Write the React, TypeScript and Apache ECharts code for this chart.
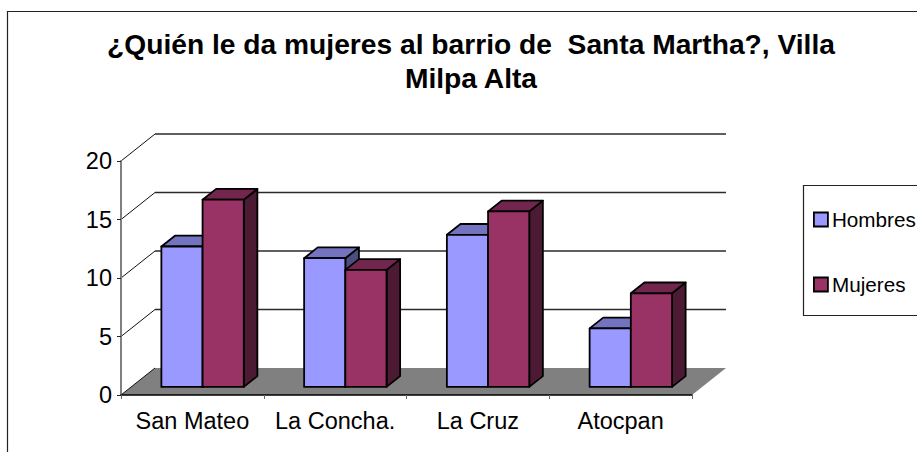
import React, { useEffect, useRef } from "react";
import * as echarts from "echarts";

const titleText = "¿Quién le da mujeres al barrio de  Santa Martha?, Villa\nMilpa Alta";
const categories = ["San Mateo", "La Concha.", "La Cruz", "Atocpan"];
const hombres = [12, 11, 13, 5];
const mujeres = [16, 10, 15, 8];
const valueTicks = [0, 5, 10, 15, 20];

const FONT = "'Liberation Sans', Arial, sans-serif";
const DEPTH_X = 34;
const DEPTH_Y = 27;
const BAR_FRONT = 0.3;
const BAR_DEPTH = 0.4;
const BAR_BAND = 0.2886;

const GRID = { left: 121, top: 161, width: 571, height: 234 };

function wallItem(params: any, api: any) {
  const v = api.value(1);
  const [x0, y] = api.coord([0, v]);
  const band = api.size([1, 0])[0];
  const left = x0 - band / 2;
  const right = left + band * categories.length;
  const children: any[] = [
    {
      type: "line",
      shape: { x1: left, y1: y, x2: left + DEPTH_X, y2: y - DEPTH_Y },
      style: { stroke: "#111", lineWidth: 1, fill: "none" },
    },
  ];
  if (v > 0) {
    children.push({
      type: "line",
      shape: { x1: left + DEPTH_X, y1: y - DEPTH_Y, x2: right + DEPTH_X, y2: y - DEPTH_Y },
      style: { stroke: "#2a2a2a", lineWidth: 1.4, fill: "none" },
    });
  }
  return { type: "group", children };
}

function floorItem(params: any, api: any) {
  const [x0, y] = api.coord([0, 0]);
  const band = api.size([1, 0])[0];
  const left = x0 - band / 2;
  const right = left + band * categories.length;
  return {
    type: "polygon",
    shape: {
      points: [
        [left, y],
        [left + DEPTH_X, y - DEPTH_Y],
        [right + DEPTH_X, y - DEPTH_Y],
        [right, y],
      ],
    },
    style: { fill: "#808080", stroke: "none" },
  };
}

function barRenderer(side: number, front: string, top: string, dark: string) {
  return (params: any, api: any) => {
    const i = api.value(0);
    const [cx, yTop0] = api.coord([i, api.value(1)]);
    const [, yBase0] = api.coord([i, 0]);
    const band = api.size([1, 0])[0];
    const w = band * BAR_BAND;
    const ox = DEPTH_X * BAR_FRONT;
    const oy = DEPTH_Y * BAR_FRONT;
    const dx = DEPTH_X * BAR_DEPTH;
    const dy = DEPTH_Y * BAR_DEPTH;
    const xl = cx + ox + (side === 0 ? -w : 0);
    const xr = xl + w;
    const yT = yTop0 - oy;
    const yB = yBase0 - oy;
    const line = { stroke: "#000", lineWidth: 1.8, lineJoin: "round" };
    return {
      type: "group",
      children: [
        {
          type: "polygon",
          shape: { points: [[xr, yT], [xr + dx, yT - dy], [xr + dx, yB - dy], [xr, yB]] },
          style: { fill: dark, ...line },
        },
        {
          type: "polygon",
          shape: { points: [[xl, yT], [xl + dx, yT - dy], [xr + dx, yT - dy], [xr, yT]] },
          style: { fill: top, ...line },
        },
        {
          type: "polygon",
          shape: { points: [[xl, yT], [xr, yT], [xr, yB], [xl, yB]] },
          style: { fill: front, ...line },
        },
      ],
    };
  };
}

export default function App() {
  const ref = useRef<HTMLDivElement>(null);
  useEffect(() => {
    document.body.style.margin = "0";
    const chart = echarts.init(ref.current!, undefined, { renderer: "svg" });
    chart.setOption({
      animation: false,
      backgroundColor: "#fff",
      tooltip: { show: false },
      title: {
        text: titleText,
        left: 466,
        top: 22,
        textAlign: "center",
        textStyle: { fontFamily: FONT, fontSize: 28.2, fontWeight: "bold", color: "#000", lineHeight: 34 },
      },
      legend: {
        data: [
          { name: "Hombres", itemStyle: { color: "#9999FF", borderColor: "#000", borderWidth: 1.8 } },
          { name: "Mujeres", itemStyle: { color: "#993366", borderColor: "#000", borderWidth: 1.8 } },
        ],
        orient: "vertical",
        left: 813,
        top: 209,
        icon: "rect",
        itemWidth: 14,
        itemHeight: 14,
        itemGap: 44,
        padding: 0,
        textStyle: { fontFamily: FONT, fontSize: 20.7, color: "#000", padding: [0, 0, 0, -1] },
      },
      grid: { ...GRID },
      xAxis: {
        type: "category",
        data: categories,
        z: 4,
        axisLine: { lineStyle: { color: "#000", width: 1.5 } },
        axisTick: { show: true, alignWithLabel: false, length: 4, lineStyle: { color: "#666", width: 1 } },
        axisLabel: { fontFamily: FONT, fontSize: 23.5, color: "#000", margin: 14, interval: 0 },
        splitLine: { show: false },
      },
      yAxis: {
        type: "value",
        min: 0,
        max: 20,
        interval: 5,
        z: 4,
        axisLine: { show: true, lineStyle: { color: "#808080", width: 2 } },
        axisTick: { show: true, length: 4, lineStyle: { color: "#222", width: 1 } },
        axisLabel: { fontFamily: FONT, fontSize: 23.5, color: "#000", margin: 9, padding: [2, 0, 0, 0] },
        splitLine: { show: false },
      },
      graphic: [
        {
          type: "rect",
          silent: true,
          z: -10,
          shape: { x: 7.5, y: 11.5, width: 1000, height: 600 },
          style: { fill: "none", stroke: "#222", lineWidth: 1.2 },
        },
        {
          type: "rect",
          silent: true,
          z: -10,
          shape: { x: 803.5, y: 185.5, width: 300, height: 130 },
          style: { fill: "#fff", stroke: "#222", lineWidth: 1.2 },
        },
      ],
      series: [
        { type: "custom", name: "Piso", z: 1, renderItem: floorItem, data: [[0, 0]], silent: true },
        {
          type: "custom",
          name: "Pared",
          z: 2,
          renderItem: wallItem,
          data: valueTicks.map((v) => [0, v]),
          silent: true,
        },
        {
          type: "custom",
          name: "Hombres",
          z: 3,
          itemStyle: { color: "#9999FF" },
          renderItem: barRenderer(0, "#9999FF", "#7373BF", "#4D4D80"),
          data: hombres.map((v, i) => [i, v]),
        },
        {
          type: "custom",
          name: "Mujeres",
          z: 3,
          itemStyle: { color: "#993366" },
          renderItem: barRenderer(1, "#993366", "#73264D", "#4D1A33"),
          data: mujeres.map((v, i) => [i, v]),
        },
      ],
    });
    return () => chart.dispose();
  }, []);
  return (
    <div style={{ position: "fixed", left: 0, top: 0, width: 917, height: 452 }}>
      <div ref={ref} style={{ width: 917, height: 452, background: "#fff" }} />
    </div>
  );
}
